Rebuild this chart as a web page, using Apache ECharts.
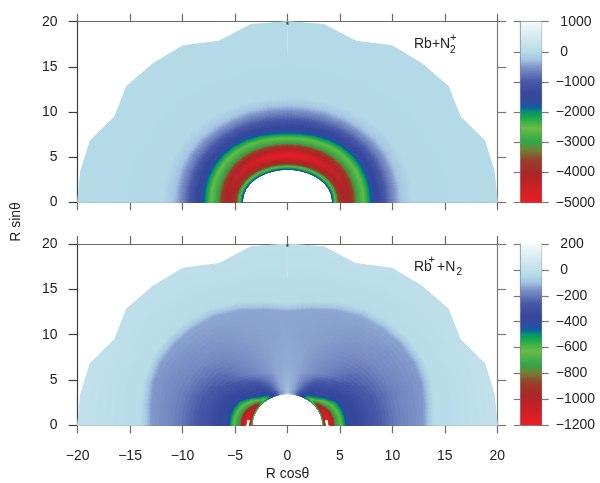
<!DOCTYPE html>
<html><head><meta charset="utf-8"><style>html,body{margin:0;padding:0;background:#fff}#c{width:600px;height:483px}</style>
<script src="https://cdn.jsdelivr.net/npm/echarts@6/dist/echarts.min.js"></script></head><body><div id="c"></div>
<script>
// Sampled field: each table row is one polar angle (mirrored about theta = 90), each column one radial ring.
const thetaDeg = [0,10,20,30,40,50,60,70,80,90];
const topRadii = [
 [4.30,4.40,4.52,4.70,4.95,5.70,6.30,6.75,7.25,7.82,8.05,9.00,9.90,10.8,11.9,20],
 [4.28,4.38,4.50,4.68,4.93,5.70,6.32,6.77,7.28,7.85,8.07,9.00,9.90,10.8,11.9,20],
 [4.22,4.32,4.44,4.63,4.88,5.68,6.36,6.81,7.32,7.89,8.12,9.05,9.95,10.85,11.95,20],
 [4.12,4.22,4.35,4.55,4.80,5.62,6.40,6.87,7.38,7.95,8.18,9.10,10.0,10.9,12.0,19],
 [4.00,4.10,4.23,4.45,4.70,5.55,6.45,6.90,7.40,7.98,8.20,9.10,10.0,10.9,12.0,20],
 [3.88,3.98,4.12,4.34,4.58,5.45,6.45,6.87,7.40,7.95,8.18,9.05,9.95,10.85,11.9,20],
 [3.78,3.88,4.02,4.24,4.46,5.38,6.42,6.83,7.32,7.86,8.10,8.95,9.90,10.8,11.8,20],
 [3.70,3.81,3.95,4.16,4.38,5.30,6.38,6.75,7.22,7.74,7.95,8.85,9.85,10.8,11.7,19],
 [3.66,3.77,3.91,4.11,4.32,5.26,6.34,6.69,7.14,7.62,7.82,8.78,9.80,10.75,11.6,20],
 [3.65,3.76,3.90,4.10,4.30,5.24,6.32,6.67,7.10,7.56,7.76,8.75,9.80,10.75,11.6,20]
];
const topValues = [
 [-1500,-1900,-2200,-2800,-3700,-4150,-3650,-2950,-2600,-2050,-1800,-1200,-700,-280,-40,-15],
 [-1500,-1900,-2200,-2800,-3700,-4200,-3650,-2950,-2600,-2050,-1800,-1200,-700,-280,-40,-15],
 [-1500,-1900,-2200,-2800,-3750,-4300,-3650,-2950,-2600,-2050,-1800,-1200,-700,-280,-40,-15],
 [-1500,-1900,-2200,-2800,-3750,-4420,-3650,-2950,-2600,-2050,-1800,-1200,-700,-280,-40,-15],
 [-1500,-1900,-2200,-2800,-3750,-4550,-3650,-2950,-2600,-2050,-1800,-1200,-700,-280,-40,-15],
 [-1500,-1900,-2200,-2800,-3750,-4680,-3650,-2950,-2600,-2050,-1800,-1200,-700,-280,-40,-15],
 [-1500,-1900,-2200,-2800,-3750,-4800,-3650,-2950,-2600,-2050,-1800,-1200,-700,-280,-40,-15],
 [-1500,-1900,-2200,-2800,-3750,-4900,-3650,-2950,-2600,-2050,-1800,-1200,-700,-280,-40,-15],
 [-1500,-1900,-2200,-2800,-3750,-4980,-3650,-2950,-2600,-2050,-1800,-1200,-700,-280,-40,-15],
 [-1500,-1900,-2200,-2800,-3750,-5000,-3650,-2950,-2600,-2050,-1800,-1200,-700,-280,-40,-15]
];
const bottomRadii = [
 [3.37,3.44,3.58,3.71,3.83,3.95,4.40,4.60,5.10,5.55,5.80,8.0,10.5,13.0,14.0,20],
 [3.37,3.44,3.58,3.71,3.83,3.95,4.38,4.58,5.08,5.52,5.78,8.0,10.5,13.2,14.2,20],
 [3.38,3.45,3.58,3.70,3.80,3.90,4.30,4.50,4.95,5.46,5.72,8.0,10.6,13.6,14.6,20],
 [3.38,3.45,3.56,3.68,3.75,3.82,4.10,4.30,4.75,5.28,5.55,7.8,10.6,13.9,14.9,19],
 [3.40,3.47,3.56,3.64,3.70,3.76,3.95,4.10,4.40,4.70,4.95,7.5,10.6,14.0,15.0,20],
 [3.42,3.48,3.56,3.62,3.68,3.74,3.85,3.95,4.08,4.25,4.45,7.0,10.4,14.0,15.0,20],
 [3.44,3.50,3.56,3.62,3.68,3.74,3.85,3.95,4.05,4.20,4.40,6.5,10.2,13.9,14.9,20],
 [3.46,3.50,3.56,3.62,3.68,3.74,3.85,3.95,4.05,4.20,4.40,6.2,10.0,13.5,14.5,19],
 [3.48,3.52,3.58,3.64,3.70,3.76,3.86,3.96,4.06,4.20,4.40,6.2,10.0,13.0,13.95,20],
 [3.50,3.53,3.60,3.66,3.72,3.78,3.88,3.98,4.08,4.20,4.40,6.2,10.0,12.6,13.5,20]
];
const bottomValues = [
 [-500,-700,-1050,-1205,-1320,-1205,-950,-780,-640,-480,-400,-290,-190,-145,-30,10],
 [-500,-700,-1050,-1201,-1205,-1201,-950,-780,-640,-480,-400,-290,-190,-145,-30,10],
 [-500,-690,-1040,-1120,-1150,-1120,-930,-770,-630,-480,-400,-280,-190,-145,-30,8],
 [-490,-670,-980,-1060,-1080,-1050,-880,-750,-620,-480,-400,-270,-180,-140,-30,0],
 [-470,-620,-850,-910,-920,-900,-780,-680,-590,-470,-400,-250,-170,-135,-30,0],
 [-440,-520,-620,-650,-660,-650,-600,-550,-500,-450,-400,-210,-160,-130,-30,-5],
 [-430,-480,-520,-530,-530,-520,-490,-440,-410,-390,-370,-180,-150,-130,-30,-5],
 [-250,-300,-330,-340,-340,-335,-320,-300,-280,-260,-250,-155,-140,-130,-30,-5],
 [-80,-120,-150,-160,-160,-155,-150,-145,-140,-135,-135,-130,-135,-130,-30,-5],
 [60,0,-50,-80,-90,-92,-95,-98,-100,-103,-105,-120,-130,-130,-30,-5]
];
const topRange = [-5000, 1000];
const bottomRange = [-1200, 200];
const rangeStep = [1000, 200];
const xLimits = [-20, 20];
const yLimits = [0, 20];
const tickStep = 5;
const seamFaint = [[0,19.7],[0,16.3]];
const seamDark = [[0,20],[0,19.7]];
const paletteStops = [0,.167,.21,.25,.33,.40,.45,.473,.497,.52,.59,.663,.71,.764,.838,1];
const paletteColors = ['#f4fafb','#b6dbe7','#a5c5e2','#7f94c8','#4658a8','#36479c','#2f4b9f','#0b5fa8','#0a8f70','#0fa54f','#69bb45','#2fa84a','#6f8035','#97412b','#ab2527','#ed1c24'];

const rgb = paletteColors.map(h => [1,3,5].map(i => parseInt(h.substr(i,2),16)));
function colorOf(v, range){
  if (v < range[0] || v > range[1]) return '#ffffff';
  const f = (range[1]-v)/(range[1]-range[0]);
  let i = 0; while (i < paletteStops.length-2 && f > paletteStops[i+1]) i++;
  const t = (f-paletteStops[i])/(paletteStops[i+1]-paletteStops[i]);
  const c = rgb[i].map((a,k)=>Math.round(a+(rgb[i+1][k]-a)*t));
  return 'rgb('+c.join(',')+')';
}
const ANG = 5, RAD = 7;
function fieldRender(radii, values, range){
  return function(params, api){
    const side = api.value(0), a = api.value(1), j = api.value(2);
    const xy = (ai, rj) => {
      const th = thetaDeg[ai]*Math.PI/180, r = radii[ai][rj];
      return [side*r*Math.cos(th), r*Math.sin(th)];
    };
    const p00 = xy(a,j), p10 = xy(a+1,j), p01 = xy(a,j+1), p11 = xy(a+1,j+1);
    const v00 = values[a][j], v10 = values[a+1][j], v01 = values[a][j+1], v11 = values[a+1][j+1];
    const bl = (q00,q10,q01,q11,u,t) => (q00*(1-u)+q10*u)*(1-t)+(q01*(1-u)+q11*u)*t;
    const at = (u,t) => api.coord([bl(p00[0],p10[0],p01[0],p11[0],u,t), bl(p00[1],p10[1],p01[1],p11[1],u,t)]);
    const children = [];
    for (let i=0;i<ANG;i++) for (let k=0;k<RAD;k++){
      const u0=i/ANG,u1=(i+1)/ANG,t0=k/RAD,t1=(k+1)/RAD;
      const col = colorOf(bl(v00,v10,v01,v11,(u0+u1)/2,(t0+t1)/2), range);
      children.push({type:'polygon',shape:{points:[at(u0,t0),at(u1,t0),at(u1,t1),at(u0,t1)]},
        style:{fill:col,stroke:col,lineWidth:1}});
    }
    return {type:'group',children};
  };
}
const cellData = [];
[1,-1].forEach(s => { for (let a=0;a<thetaDeg.length-1;a++) for (let j=0;j<topRadii[0].length-1;j++) cellData.push([s,a,j]); });

function barRender(range){
  return function(params, api){
    const p0 = api.coord([0, range[1]]), p1 = api.coord([1, range[0]]);
    return {type:'rect',shape:{x:p0[0],y:p0[1],width:p1[0]-p0[0],height:p1[1]-p0[1]},
      style:{fill:new echarts.graphic.LinearGradient(0,0,0,1,paletteStops.map((o,i)=>({offset:o,color:paletteColors[i]})))}};
  };
}
const minus = v => String(v).replace('-','\u2212');
const font = {fontFamily:'Liberation Sans',fontSize:14,color:'#222'};
const G = [{left:77.6,width:419.7,top:21.7,height:180.6},{left:77.6,width:419.7,top:244,height:181.3},
           {left:520.7,width:21,top:21.7,height:181},{left:520.7,width:21,top:244,height:181.3}];
const xAxes=[], yAxes=[];
[0,1].forEach(g=>{
  ['bottom','top'].forEach(pos=>xAxes.push({gridIndex:g,type:'value',position:pos,min:xLimits[0],max:xLimits[1],interval:tickStep,
    axisLine:{onZero:false,lineStyle:{color:'#6a6a6a',width:1.2}},axisTick:{show:true,length:8,inside:false,lineStyle:{color:'#6a6a6a',width:1.2}},
    splitLine:{show:false},axisLabel:{show:g===1&&pos==='bottom',formatter:minus,margin:24,...font,showMinLabel:true,showMaxLabel:true},
    name:(g===1&&pos==='bottom')?'R cos\u03b8':'',nameLocation:'middle',nameGap:42,nameTextStyle:font}));
  ['left','right'].forEach(pos=>yAxes.push({gridIndex:g,type:'value',position:pos,min:yLimits[0],max:yLimits[1],interval:tickStep,
    axisLine:{onZero:false,lineStyle:{color:pos==='left'?'#3c3c3c':'#7a7a7a',width:1.2}},axisTick:{show:true,length:9,lineStyle:{color:pos==='left'?'#3c3c3c':'#7a7a7a',width:1.2}},
    splitLine:{show:false},axisLabel:{show:pos==='left',margin:20,...font,showMinLabel:true,showMaxLabel:true}}));
});
[[topRange,rangeStep[0]],[bottomRange,rangeStep[1]]].forEach((cfg,n)=>{
  xAxes.push({gridIndex:2+n,type:'value',min:0,max:1,show:true,axisLine:{onZero:false,lineStyle:{color:'#8a8a8a'}},axisTick:{show:false},axisLabel:{show:false},splitLine:{show:false}});
  xAxes.push({gridIndex:2+n,type:'value',position:'top',min:0,max:1,show:true,axisLine:{onZero:false,lineStyle:{color:'#8a8a8a'}},axisTick:{show:false},axisLabel:{show:false},splitLine:{show:false}});
  ['left','right'].forEach(pos=>yAxes.push({gridIndex:2+n,type:'value',position:pos,min:cfg[0][0],max:cfg[0][1],interval:cfg[1],
    axisLine:{onZero:false,lineStyle:{color:'#8a8a8a',width:1.2}},axisTick:{show:true,length:7,lineStyle:{color:'#7a7a7a',width:1.2}},splitLine:{show:false},
    axisLabel:{show:pos==='right',align:'left',margin:14,...font,showMinLabel:true,showMaxLabel:true,formatter:v=>v<0?minus(v):'\u2004'+v}}));
});
const txt=(text,x,base,size)=>{size=size||14;return {type:'text',silent:true,style:{text,x,y:base-size*0.86,fill:'#222',font:size+'px "Liberation Sans"'}};};
const seamSeries = (xi,yi)=>[
  {type:'line',xAxisIndex:xi,yAxisIndex:yi,data:seamFaint,symbol:'none',silent:true,z:3,lineStyle:{color:'#c6e3ec',width:1}},
  {type:'line',xAxisIndex:xi,yAxisIndex:yi,data:seamDark,symbol:'none',silent:true,z:4,lineStyle:{color:'#444',width:2}}
];
const chart = echarts.init(document.getElementById('c'),null,{renderer:'canvas'});
chart.setOption({
  animation:false,backgroundColor:'#fff',grid:G,xAxis:xAxes,yAxis:yAxes,
  graphic:[
    txt('Rb+N',414,49.5),txt('+',450,42,11),txt('2',450,54,10),
    txt('Rb',414,272),txt('+',428.5,264,11),txt('+N',437,272),txt('2',456.5,276,10),
    {type:'text',silent:true,rotation:Math.PI/2,x:16,y:222,style:{text:'R sin\u03b8',x:0,y:0,fill:'#222',font:'14px "Liberation Sans"',textAlign:'center',textVerticalAlign:'middle'}}
  ],
  series:[
    {type:'custom',coordinateSystem:'cartesian2d',xAxisIndex:0,yAxisIndex:0,data:cellData,renderItem:fieldRender(topRadii,topValues,topRange),silent:true,z:1},
    {type:'custom',coordinateSystem:'cartesian2d',xAxisIndex:2,yAxisIndex:2,data:cellData,renderItem:fieldRender(bottomRadii,bottomValues,bottomRange),silent:true,z:1},
    {type:'custom',coordinateSystem:'cartesian2d',xAxisIndex:4,yAxisIndex:4,data:[[0]],renderItem:barRender(topRange),silent:true},
    {type:'custom',coordinateSystem:'cartesian2d',xAxisIndex:6,yAxisIndex:6,data:[[0]],renderItem:barRender(bottomRange),silent:true},
    ...seamSeries(0,0),...seamSeries(2,2)
  ]
});
</script></body></html>
